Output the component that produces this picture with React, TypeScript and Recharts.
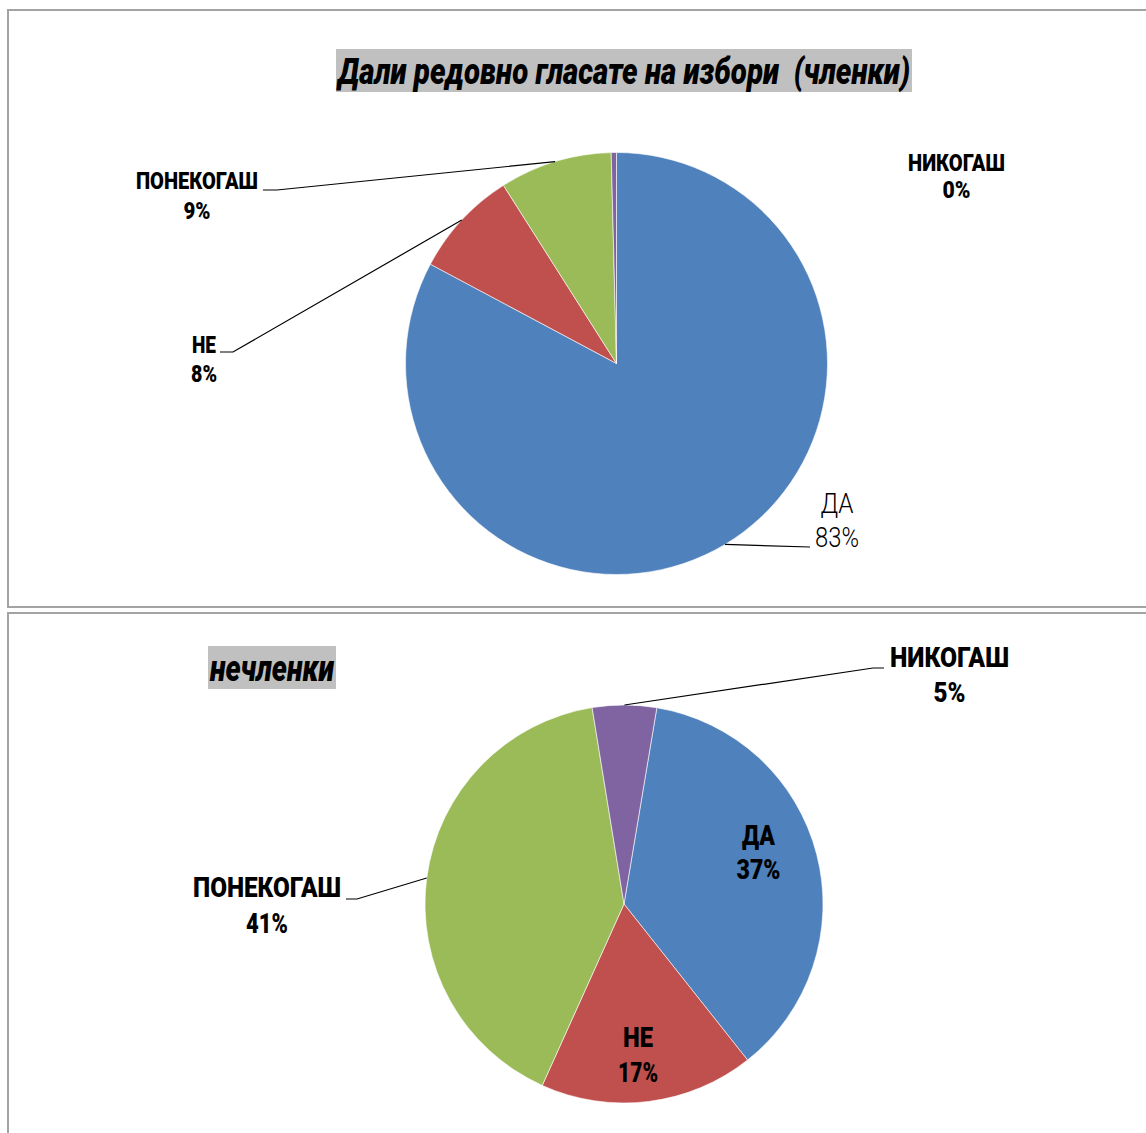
import React from "react";
import { PieChart, Pie, Cell } from "recharts";

const NAMES = ["ДА", "НЕ", "ПОНЕКОГАШ", "НИКОГАШ"];
const MEMBERS_VALUES = [82.8, 8.2, 8.6, 0.4];
const NONMEMBERS_VALUES = [36.7, 17.4, 40.7, 5.2];
const COLORS = ["#4F81BD", "#C0504D", "#9BBB59", "#8064A2"];
const TITLE_TOP = "Дали редовно гласате на избори  (членки)";
const TITLE_BOTTOM = "нечленки";

const membersData = NAMES.map((name, i) => ({ name, value: MEMBERS_VALUES[i] }));
const nonMembersData = NAMES.map((name, i) => ({ name, value: NONMEMBERS_VALUES[i] }));

const FONT = "Roboto, 'DejaVu Sans Condensed', sans-serif";

type LabelLayout = {
  dx: number;
  dy: number;
  gap: number;
  size: number;
  weight: number | string;
  w: [number, number];
  line: [number, number][];
};

const TOP_LAYOUT: LabelLayout[] = [
  { dx: 220.5, dy: 139.5, gap: 34, size: 28, weight: 300, w: [33, 44], line: [[193.5, 183.5]] },
  { dx: -412.5, dy: -18, gap: 29, size: 23, weight: 900, w: [24, 26], line: [[-383.5, -11.5], [-396.5, -11.5]] },
  { dx: -419.5, dy: -182, gap: 30, size: 23, weight: 900, w: [122, 27], line: [[-339.5, -173.5], [-353.5, -173.5]] },
  { dx: 340, dy: -201, gap: 27, size: 24, weight: 900, w: [97, 28], line: [] },
];

const BOTTOM_LAYOUT: LabelLayout[] = [
  { dx: 134.5, dy: -68, gap: 34, size: 27, weight: 900, w: [33, 44], line: [] },
  { dx: 14, dy: 133.5, gap: 35.5, size: 27, weight: 900, w: [30, 40], line: [] },
  { dx: -357, dy: -16, gap: 36, size: 27, weight: 900, w: [148, 42], line: [[-267, -5], [-278, -5]] },
  { dx: 325.5, dy: -246.5, gap: 35, size: 27, weight: 900, w: [119, 32], line: [[249, -236], [260, -236]] },
];

const RAD = Math.PI / 180;

function makeLabel(layout: LabelLayout[]) {
  return (props: any) => {
    const { cx, cy, midAngle, outerRadius, index, name, percent } = props;
    const L = layout[index];
    const sx = cx + outerRadius * Math.cos(-midAngle * RAD);
    const sy = cy + outerRadius * Math.sin(-midAngle * RAD);
    const pts = [[sx, sy], ...L.line.map(([x, y]) => [cx + x, cy + y])];
    const tx = cx + L.dx;
    const ty = cy + L.dy;
    const common = {
      textAnchor: "middle" as const,
      dominantBaseline: "central" as const,
      fontFamily: FONT,
      fontSize: L.size,
      fontWeight: L.weight,
      fill: "#000",
      lengthAdjust: "spacingAndGlyphs" as const,
    };
    return (
      <g key={`lbl-${index}`}>
        {L.line.length > 0 && (
          <polyline
            points={pts.map((p) => p.join(",")).join(" ")}
            fill="none"
            stroke="#000"
            strokeWidth={1.2}
          />
        )}
        <text x={tx} y={ty} textLength={L.w[0]} {...common}>
          {name}
        </text>
        <text x={tx} y={ty + L.gap} textLength={L.w[1]} {...common}>
          {`${Math.round(percent * 100)}%`}
        </text>
      </g>
    );
  };
}

const boxStyle: React.CSSProperties = {
  position: "absolute",
  left: 7,
  width: 1160,
  border: "2px solid #a3a3a3",
  boxSizing: "border-box",
  background: "#fff",
};

function Title({ text, left, top, width }: { text: string; left: number; top: number; width: number }) {
  return (
    <div
      style={{
        position: "absolute",
        left,
        top,
        width,
        height: 43,
        background: "#c0c0c0",
        zIndex: 2,
      }}
    >
      <svg width={width} height={43} style={{ display: "block", overflow: "visible" }}>
        <text
          x={2}
          y={35}
          textLength={width - 4}
          lengthAdjust="spacingAndGlyphs"
          fontFamily={FONT}
          fontStyle="italic"
          fontWeight={900}
          fontSize={37}
          fill="#000"
          style={{ whiteSpace: "pre" }}
        >
          {text}
        </text>
      </svg>
    </div>
  );
}

const NO_MARGIN = { top: 0, right: 0, bottom: 0, left: 0 };

export default function App() {
  return (
    <div style={{ position: "absolute", left: 0, top: 0, width: 1146, height: 1133, overflow: "hidden" }}>
      <div style={{ ...boxStyle, top: 9, height: 599 }} />
      <div style={{ ...boxStyle, top: 612, height: 540 }} />

      <Title text={TITLE_TOP} left={336} top={49} width={576} />
      <Title text={TITLE_BOTTOM} left={208} top={646} width={128} />

      <div style={{ position: "absolute", left: 0, top: 0, zIndex: 1 }}>
        <PieChart width={1146} height={607} margin={NO_MARGIN}>
          <Pie
            data={membersData}
            dataKey="value"
            nameKey="name"
            cx={616.5}
            cy={363.5}
            outerRadius={211}
            startAngle={90}
            endAngle={-270}
            stroke="#ffffff"
            strokeWidth={0.6}
            label={makeLabel(TOP_LAYOUT)}
            labelLine={false}
            isAnimationActive={false}
          >
            {membersData.map((d, i) => (
              <Cell key={d.name} fill={COLORS[i]} />
            ))}
          </Pie>
        </PieChart>
      </div>

      <div style={{ position: "absolute", left: 0, top: 612, zIndex: 1 }}>
        <PieChart width={1146} height={521} margin={NO_MARGIN}>
          <Pie
            data={nonMembersData}
            dataKey="value"
            nameKey="name"
            cx={624}
            cy={292}
            outerRadius={199}
            startAngle={80.5}
            endAngle={-279.5}
            stroke="#ffffff"
            strokeWidth={0.6}
            label={makeLabel(BOTTOM_LAYOUT)}
            labelLine={false}
            isAnimationActive={false}
          >
            {nonMembersData.map((d, i) => (
              <Cell key={d.name} fill={COLORS[i]} />
            ))}
          </Pie>
        </PieChart>
      </div>
    </div>
  );
}
